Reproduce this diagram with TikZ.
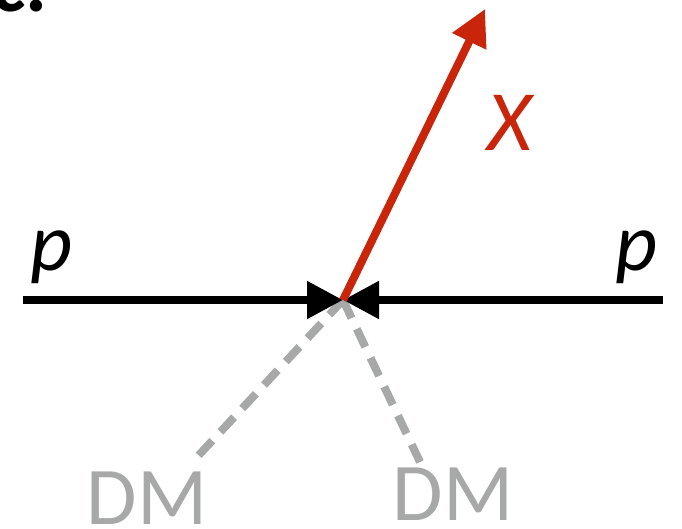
\documentclass[tikz,border=0pt]{standalone}
\usepackage{fontspec}
\setmainfont{Carlito}
\usetikzlibrary{arrows.meta}
\definecolor{cred}{HTML}{C8250A}
\definecolor{cgrey}{HTML}{A6A9A7}
\tikzset{
  every picture/.style={x=1pt, y=-1pt},
  proton/.style={-{Triangle[length=36pt, width=36pt]}, draw=black, line width=8pt},
  xline/.style={-{Triangle[length=36pt, width=36pt]}, draw=cred, line width=8pt},
  dmline/.style={draw=cgrey, line width=8pt, dash pattern=on 20pt off 12pt},
  lbl/.style={inner sep=0pt, anchor=base, font=\fontsize{82}{96}\selectfont},
}
\begin{document}
\begin{tikzpicture}
  \useasboundingbox (0,0) rectangle (682,528);
  % vertex and free ends of the lines
  \coordinate (v) at (343,300);
  \coordinate (pl) at (23,300);
  \coordinate (pr) at (663,300);
  \coordinate (xe) at (485,9);
  \coordinate (dma) at (198,456);
  \coordinate (dmb) at (420,462);
  % labels
  \node[lbl, anchor=base west, font=\fontsize{82}{96}\selectfont\bfseries] (tag) at (-9,11) {c.};
  \node[lbl] (pa) at (52,270) {\itshape p};
  \node[lbl] (pb) at (637,270) {\itshape p};
  \node[lbl, text=cred, font=\fontsize{86}{100}\selectfont\itshape] (xlab) at (510,150) {X};
  \node[lbl, text=cgrey] (dmla) at (147,524) {DM};
  \node[lbl, text=cgrey] (dmlb) at (453,520) {DM};
  % lines
  \draw[dmline] (v) -- (dma);
  \draw[dmline] (v) -- (dmb);
  \draw[proton] (pl) -- (v);
  \draw[proton] (pr) -- (v);
  \draw[xline] (v) -- (xe);
\end{tikzpicture}
\end{document}
